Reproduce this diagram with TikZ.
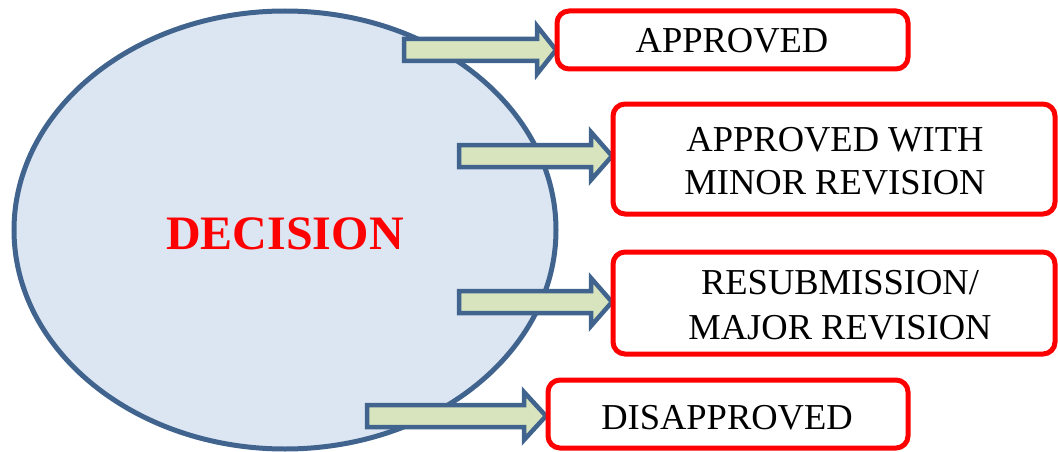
\documentclass[tikz,border=0pt]{standalone}
\usepackage{fontspec}
\setmainfont{Liberation Serif}
\definecolor{ellfill}{HTML}{DCE6F2}
\definecolor{edgeblue}{HTML}{41648F}
\definecolor{arrfill}{HTML}{D7E4BD}
\definecolor{boxred}{HTML}{FF0000}
\newcommand\blockarrow[5]{% tail, base, tip, y, name
  \draw[arrowshape] (#1,#4-11) -- (#2,#4-11) -- (#2,#4-24) -- (#3,#4) -- (#2,#4+24) -- (#2,#4+11) -- (#1,#4+11) -- cycle;
  \coordinate (#5) at (#3,#4);}
\begin{document}
\begin{tikzpicture}[x=1pt,y=-1pt,
  ellstyle/.style={draw=edgeblue,fill=ellfill,line width=5pt},
  arrowshape/.style={draw=edgeblue,fill=arrfill,line width=4.5pt,line join=miter},
  choice/.style={draw=boxred,line width=5pt,rounded corners=12pt,fill=white},
  lbl/.style={font=\fontsize{36.5}{43}\selectfont,align=center}]
\useasboundingbox (0,0) rectangle (1058,452);
% ellipse
\draw[ellstyle] (285,230) ellipse [x radius=271, y radius=219];
\node[text=red,font=\fontsize{48}{56}\selectfont\bfseries] (dec) at (285,234) {DECISION};
% arrows
\blockarrow{404}{537}{556}{50}{t1}
\blockarrow{459}{591}{612}{156}{t2}
\blockarrow{459}{591}{612}{302}{t3}
\blockarrow{367}{524}{546}{416}{t4}
% boxes
\draw[choice] (557,11) rectangle (908,69);
\node[lbl] (b1) at (732,41) {APPROVED};
\draw[choice] (613,104) rectangle (1055,214);
\node[lbl] (b2) at (835,161) {APPROVED WITH\\MINOR REVISION};
\draw[choice] (613,252) rectangle (1055,354);
\node[lbl,font=\fontsize{36.5}{45}\selectfont] (b3) at (840,305) {RESUBMISSION/\\MAJOR REVISION};
\draw[choice] (548,380) rectangle (908,448);
\node[lbl] (b4) at (727,418) {DISAPPROVED};
\end{tikzpicture}
\end{document}
